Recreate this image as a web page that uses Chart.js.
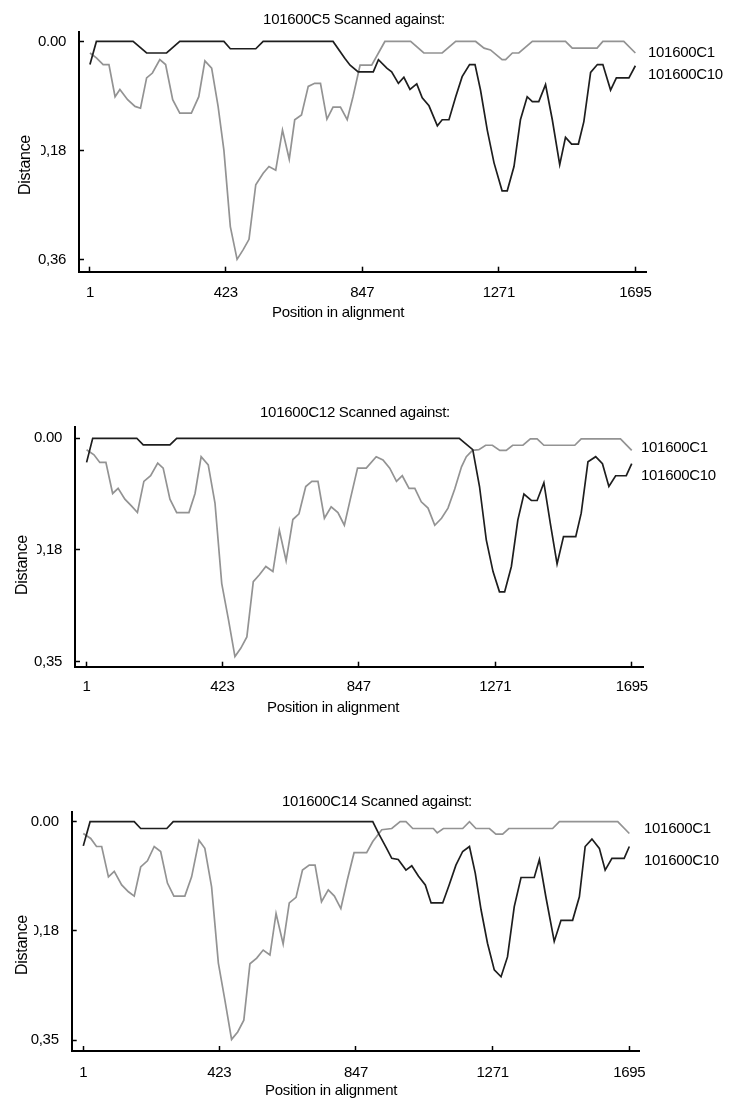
<!DOCTYPE html>
<html>
<head>
<meta charset="utf-8">
<script src="https://cdn.jsdelivr.net/npm/chart.js@4.4.0/dist/chart.umd.min.js"></script>
<style>
  html, body { margin: 0; padding: 0; background: #fff; }
  #wrap { position: relative; width: 732px; height: 1109px; overflow: hidden; }
  canvas { position: absolute; left: 0; }
</style>
</head>
<body>
<div id="wrap">
  <canvas id="p1" width="732" height="370" style="top:0px"></canvas>
  <canvas id="p2" width="732" height="370" style="top:370px"></canvas>
  <canvas id="p3" width="732" height="369" style="top:740px"></canvas>
</div>
<script>
// shared axis ticks and series names
const xTicks = [1, 423, 847, 1271, 1695];
const xTickLabels = ['1', '423', '847', '1271', '1695'];
const seriesNames = ['101600C1', '101600C10'];

// panel 1 - 101600C5
const p1Title = '101600C5 Scanned against:';
const p1YTicks = [0, 0.18, 0.36];
const p1YTickLabels = ['0.00', '0,18', '0,36'];
const p1C1Pos = [1,21,42,60,79,94,118,141,158,177,195,218,236,258,280,316,339,358,379,399,417,437,458,477,495,516,539,557,578,599,620,637,658,679,699,717,737,756,779,800,818,840,876,917,997,1038,1095,1137,1199,1225,1245,1281,1292,1313,1333,1375,1478,1499,1576,1594,1659,1695];
const p1C1Val = [0.019,0.027,0.038,0.038,0.091,0.079,0.096,0.107,0.11,0.06,0.052,0.03,0.038,0.096,0.118,0.118,0.091,0.032,0.044,0.107,0.179,0.305,0.359,0.343,0.326,0.236,0.217,0.206,0.212,0.146,0.194,0.129,0.121,0.074,0.069,0.069,0.128,0.108,0.108,0.129,0.091,0.039,0.039,0,0,0.019,0.019,0,0,0.011,0.014,0.03,0.03,0.019,0.019,0,0,0.011,0.011,0,0,0.019];
const p1C10Pos = [1,21,135,177,239,280,417,437,516,539,756,793,809,834,881,897,923,938,959,976,995,1016,1033,1054,1080,1095,1116,1137,1157,1180,1197,1214,1235,1256,1281,1297,1318,1338,1359,1375,1395,1416,1437,1460,1478,1497,1518,1535,1556,1577,1594,1618,1636,1675,1695];
const p1C10Val = [0.038,0,0,0.019,0.019,0,0,0.012,0.012,0,0,0.028,0.039,0.05,0.05,0.03,0.044,0.05,0.069,0.059,0.079,0.07,0.093,0.106,0.139,0.129,0.129,0.091,0.058,0.038,0.038,0.08,0.146,0.2,0.246,0.246,0.206,0.129,0.091,0.099,0.099,0.071,0.129,0.203,0.158,0.169,0.169,0.132,0.051,0.038,0.038,0.08,0.06,0.06,0.04];

// panel 2 - 101600C12
const p2Title = '101600C12 Scanned against:';
const p2YTicks = [0, 0.176, 0.352];
const p2YTickLabels = ['0.00', '0,18', '0,35'];
const p2C1Pos = [1,24,42,61,82,99,120,141,159,179,200,222,239,260,281,319,338,357,379,400,421,442,462,480,499,519,538,558,580,600,621,642,661,682,701,720,740,761,782,802,820,843,870,901,922,943,964,982,1003,1021,1041,1062,1083,1104,1124,1145,1166,1181,1200,1220,1241,1262,1285,1305,1325,1357,1380,1401,1422,1518,1538,1660,1695];
const p2C1Val = [0.018,0.026,0.038,0.038,0.087,0.079,0.096,0.107,0.117,0.068,0.059,0.039,0.047,0.096,0.117,0.117,0.087,0.029,0.042,0.102,0.229,0.286,0.344,0.331,0.313,0.226,0.215,0.202,0.21,0.145,0.193,0.128,0.119,0.076,0.068,0.068,0.126,0.108,0.117,0.137,0.097,0.047,0.047,0.029,0.034,0.047,0.068,0.059,0.079,0.079,0.1,0.11,0.137,0.126,0.11,0.08,0.045,0.029,0.019,0.018,0.011,0.011,0.019,0.019,0.011,0.011,0.001,0.001,0.011,0.011,0.001,0.001,0.019];
const p2C10Pos = [1,20,157,177,260,281,1159,1201,1222,1243,1264,1284,1300,1321,1341,1360,1383,1401,1422,1442,1463,1483,1521,1538,1559,1583,1604,1624,1645,1678,1695];
const p2C10Val = [0.038,0,0,0.0105,0.0105,0,0,0.018,0.076,0.16,0.21,0.242,0.242,0.202,0.129,0.088,0.098,0.098,0.07,0.134,0.198,0.155,0.155,0.118,0.037,0.029,0.04,0.076,0.059,0.059,0.04];

// panel 3 - 101600C14
const p3Title = '101600C14 Scanned against:';
const p3YTicks = [0, 0.176, 0.352];
const p3YTickLabels = ['0.00', '0,18', '0,35'];
const p3C1Pos = [1,24,42,58,79,97,120,141,159,179,200,221,241,262,282,316,337,360,378,399,420,440,461,480,499,518,539,559,580,599,621,640,661,681,702,720,740,761,780,800,820,841,880,899,927,958,984,1002,1023,1087,1099,1118,1178,1199,1219,1261,1281,1302,1321,1457,1478,1659,1695];
const p3C1Val = [0.019,0.027,0.04,0.04,0.089,0.08,0.102,0.113,0.12,0.073,0.063,0.04,0.048,0.099,0.12,0.12,0.089,0.03,0.043,0.105,0.228,0.287,0.351,0.339,0.32,0.229,0.22,0.207,0.215,0.148,0.197,0.131,0.122,0.078,0.07,0.07,0.129,0.11,0.12,0.14,0.094,0.05,0.05,0.032,0.013,0.011,0,0,0.011,0.011,0.018,0.011,0.011,0,0.011,0.011,0.02,0.02,0.011,0.011,0,0,0.019];
const p3C10Pos = [1,22,159,179,260,280,899,919,942,958,978,1002,1020,1041,1062,1080,1116,1136,1157,1178,1199,1217,1235,1255,1276,1297,1317,1338,1359,1400,1416,1436,1462,1483,1519,1540,1558,1579,1602,1620,1641,1679,1695];
const p3C10Val = [0.039,0,0,0.011,0.011,0,0,0.021,0.043,0.059,0.061,0.078,0.071,0.088,0.102,0.131,0.131,0.102,0.07,0.048,0.04,0.083,0.142,0.196,0.239,0.25,0.218,0.137,0.09,0.09,0.061,0.121,0.193,0.159,0.159,0.121,0.04,0.028,0.043,0.078,0.059,0.059,0.04];

const FONT = '"Liberation Sans", Arial, sans-serif';
Chart.defaults.font.family = FONT;
Chart.defaults.font.size = 15;
Chart.defaults.color = '#000';

// layout of each panel (canvas-relative pixels)
let panels = [
  { id: 'p1', title: p1Title, yTicks: p1YTicks, yLabels: p1YTickLabels,
    c1: [p1C1Pos, p1C1Val], c10: [p1C10Pos, p1C10Val],
    area: { left: 79, top: 31.7, right: 646, bottom: 271.7 },
    xRange: [-33, 1728], yRange: [-0.0161, 0.3793], xPad: 17,
    titleAt: [354, 20], c1At: [648, 53], c10At: [648, 75], xTitleAt: [338, 313], yTitleAt: [26, 165], yTitleCut: 41 },
  { id: 'p2', title: p2Title, yTicks: p2YTicks, yLabels: p2YTickLabels,
    c1: [p2C1Pos, p2C1Val], c10: [p2C10Pos, p2C10Val],
    area: { left: 75, top: 57.3, right: 643, bottom: 296.7 },
    xRange: [-35, 1730], yRange: [-0.0173, 0.3599], xPad: 16,
    titleAt: [355, 43], c1At: [641, 78], c10At: [641, 106], xTitleAt: [333, 338], yTitleAt: [23, 195], yTitleCut: 37 },
  { id: 'p3', title: p3Title, yTicks: p3YTicks, yLabels: p3YTickLabels,
    c1: [p3C1Pos, p3C1Val], c10: [p3C10Pos, p3C10Val],
    area: { left: 71.7, top: 71.7, right: 639, bottom: 311 },
    xRange: [-35, 1725], yRange: [-0.0161, 0.3697], xPad: 18,
    titleAt: [377, 61.5], c1At: [644, 89], c10At: [644, 121], xTitleAt: [331, 351], yTitleAt: [23, 205], yTitleCut: 34 }
];

let toPoints = function (pos, val) {
  return pos.map((x, i) => ({ x: x, y: val[i] }));
};

let textPlugin = function (p) {
  return {
    id: 'texts',
    beforeDraw(chart) {
      chart.ctx.letterSpacing = '-0.3px';
    },
    afterDraw(chart) {
      let ctx = chart.ctx;
      ctx.save();
      ctx.fillStyle = '#000';
      ctx.font = '15px ' + FONT;
      ctx.textBaseline = 'middle';
      ctx.textAlign = 'center';
      ctx.fillText(p.title, p.titleAt[0], p.titleAt[1]);
      ctx.fillText('Position in alignment', p.xTitleAt[0], p.xTitleAt[1]);
      ctx.textAlign = 'left';
      ctx.fillText(seriesNames[0], p.c1At[0], p.c1At[1]);
      ctx.fillText(seriesNames[1], p.c10At[0], p.c10At[1]);
      // axis title sits in a white box that hides part of the middle tick label, as in the original
      ctx.translate(p.yTitleAt[0], p.yTitleAt[1]);
      ctx.rotate(-Math.PI / 2);
      ctx.fillStyle = '#fff';
      ctx.fillRect(-36, -10, 72, p.yTitleCut - p.yTitleAt[0] + 10);
      ctx.fillStyle = '#000';
      ctx.textAlign = 'center';
      ctx.font = '16px ' + FONT;
      ctx.fillText('Distance', 0, 0);
      ctx.restore();
    }
  };
};

panels.forEach(function (p) {
  let canvas = document.getElementById(p.id);
  let W = canvas.width, H = canvas.height;
  new Chart(canvas.getContext('2d'), {
    type: 'line',
    data: {
      datasets: [
        { label: seriesNames[1], data: toPoints(p.c10[0], p.c10[1]), borderColor: '#1e1e1e', order: 0 },
        { label: seriesNames[0], data: toPoints(p.c1[0], p.c1[1]), borderColor: '#939393', order: 1 }
      ]
    },
    options: {
      responsive: false,
      animation: false,
      devicePixelRatio: 1,
      layout: { padding: { left: 0, top: p.area.top, right: W - p.area.right, bottom: 0 } },
      elements: {
        point: { radius: 0 },
        line: { borderWidth: 1.7, tension: 0, fill: false }
      },
      plugins: { legend: { display: false }, title: { display: false }, tooltip: { enabled: false } },
      scales: {
        x: {
          type: 'linear',
          position: 'bottom',
          min: p.xRange[0],
          max: p.xRange[1],
          afterBuildTicks: (s) => { s.ticks = xTicks.map(v => ({ value: v })); },
          afterFit: (s) => { s.height = H - p.area.bottom; },
          ticks: {
            autoSkip: false, maxRotation: 0, padding: p.xPad,
            callback: (v, i) => xTickLabels[i]
          },
          grid: { display: true, drawOnChartArea: false, drawTicks: true, tickLength: -5, tickColor: '#000', tickWidth: 1.5 },
          border: { display: true, color: '#000', width: 2 }
        },
        y: {
          type: 'linear',
          reverse: true,
          min: p.yRange[0],
          max: p.yRange[1],
          afterBuildTicks: (s) => { s.ticks = p.yTicks.map(v => ({ value: v })); },
          afterFit: (s) => { s.width = p.area.left; },
          ticks: {
            autoSkip: false, padding: 18,
            callback: (v, i) => p.yLabels[i]
          },
          grid: { display: true, drawOnChartArea: false, drawTicks: true, tickLength: -5, tickColor: '#000', tickWidth: 1.5 },
          border: { display: true, color: '#000', width: 2 }
        }
      }
    },
    plugins: [textPlugin(p)]
  });
});
</script>
</body>
</html>
